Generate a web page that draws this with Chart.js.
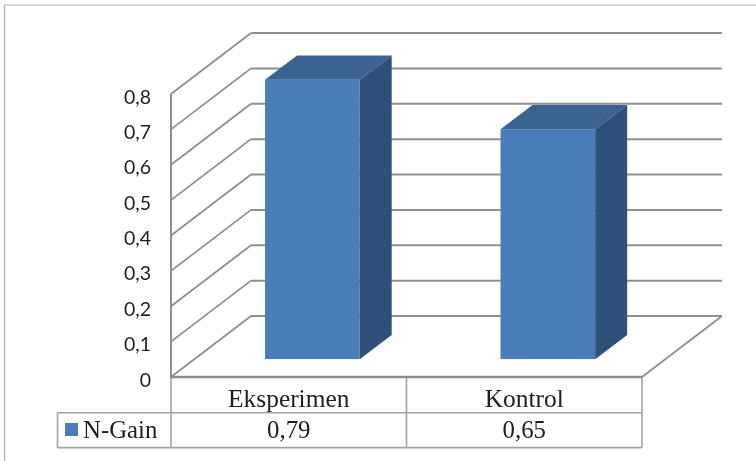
<!DOCTYPE html>
<html>
<head>
<meta charset="utf-8">
<title>N-Gain</title>
<script src="https://cdn.jsdelivr.net/npm/chart.js@4/dist/chart.umd.min.js"></script>
<style>
  html, body { margin: 0; padding: 0; background: #fff; }
  canvas { display: block; }
</style>
</head>
<body>
<canvas id="chart" width="756" height="461"></canvas>
<script>
const categories = ['Eksperimen', 'Kontrol'];
const nGain = [0.79, 0.65];
const tickLabels = ['0', '0,1', '0,2', '0,3', '0,4', '0,5', '0,6', '0,7', '0,8'];
const seriesName = 'N-Gain';

// Depth of the box: bars stand inside it, so the scales follow the bar plane
const frontDx = -23.6, frontDy = 17.7;   // bar plane -> front edge of the box
const backDx = 56.4, backDy = -43.3;     // bar plane -> back wall
const barDepthDx = 32, barDepthDy = -24.3;

const gridColor = '#8f8f8f';
const tableColor = '#a3a3a3';
const barFront = '#4a7ebb';
const barTop = '#3a6390';
const barSide = '#2f5079';
const serifFont = '24.8px "Liberation Serif", "Times New Roman", serif';
const textColor = '#1e1e1e';

function line(ctx, x1, y1, x2, y2, color, width) {
    ctx.beginPath();
    ctx.moveTo(x1, y1);
    ctx.lineTo(x2, y2);
    ctx.strokeStyle = color;
    ctx.lineWidth = width;
    ctx.stroke();
}

function poly(ctx, pts, color) {
    ctx.beginPath();
    pts.forEach((p, i) => i ? ctx.lineTo(p[0], p[1]) : ctx.moveTo(p[0], p[1]));
    ctx.closePath();
    ctx.fillStyle = color;
    ctx.fill();
}

// Page frame, side wall, back wall and floor, all behind the bars
const boxPlugin = {
    id: 'box',
    beforeDatasetsDraw(chart) {
        const { ctx, scales: { x, y } } = chart;
        ctx.save();
        ctx.lineJoin = 'miter';
        line(ctx, 4.5, 5, 756, 5, '#c8c8c8', 1.5);
        line(ctx, 4.5, 5, 4.5, 461, '#b8b8b8', 1.5);

        const frontX = x.left + frontDx;
        const frontRight = x.right + frontDx;
        const backX = x.left + backDx;
        const backRight = x.right + backDx;

        y.ticks.forEach(t => {
            const py = y.getPixelForValue(t.value);
            line(ctx, frontX, py + frontDy, backX, py + backDy, gridColor, 1.8);
            line(ctx, backX, py + backDy, backRight, py + backDy, gridColor, 2);
        });
        const floorY = y.getPixelForValue(0);
        line(ctx, frontRight, floorY + frontDy, backRight, floorY + backDy, gridColor, 1.8);
        line(ctx, frontX, y.getPixelForValue(0.8) + frontDy, frontX, floorY + frontDy, gridColor, 2);
        ctx.restore();
    },
    // Top and side faces come from the bar elements themselves
    afterDatasetsDraw(chart) {
        const { ctx } = chart;
        ctx.save();
        chart.getDatasetMeta(0).data.forEach(bar => {
            const l = bar.x - bar.width / 2;
            const r = bar.x + bar.width / 2;
            poly(ctx, [[l, bar.y], [r, bar.y], [r + barDepthDx, bar.y + barDepthDy], [l + barDepthDx, bar.y + barDepthDy]], barTop);
            poly(ctx, [[r, bar.y], [r + barDepthDx, bar.y + barDepthDy], [r + barDepthDx, bar.base + barDepthDy], [r, bar.base]], barSide);
        });
        ctx.restore();
    },
    // Data table under the box
    afterDraw(chart) {
        const { ctx, scales: { x, y } } = chart;
        const axisY = y.getPixelForValue(0) + frontDy;
        const rowY = 412.7, tableBottom = 447.7, legendLeft = 57.5;
        const left = x.left + frontDx;
        const right = x.right + frontDx;
        const slots = categories.map((c, i) => x.getPixelForValue(i) + frontDx);
        const mid = (slots[0] + slots[1]) / 2;

        ctx.save();
        line(ctx, legendLeft, rowY, right, rowY, tableColor, 1.6);
        line(ctx, legendLeft, tableBottom, right, tableBottom, tableColor, 1.8);
        line(ctx, legendLeft, rowY, legendLeft, tableBottom, tableColor, 1.6);
        [left, mid, right].forEach(px => line(ctx, px, axisY, px, tableBottom, tableColor, 1.6));
        line(ctx, left - 1, axisY, right, axisY, '#8c8c8c', 2.6);

        ctx.fillStyle = barFront;
        ctx.fillRect(65, 423, 13, 13);

        ctx.font = serifFont;
        ctx.fillStyle = textColor;
        ctx.textBaseline = 'alphabetic';
        ctx.textAlign = 'left';
        ctx.fillText(seriesName, 83, 438);
        ctx.textAlign = 'center';
        nGain.forEach((v, i) => {
            ctx.fillText(v.toFixed(2).replace('.', ','), slots[i], 438);
        });
        ctx.restore();
    }
};

new Chart(document.getElementById('chart'), {
    type: 'bar',
    data: {
        labels: categories,
        datasets: [{
            label: seriesName,
            data: nGain,
            backgroundColor: barFront,
            borderWidth: 0,
            barPercentage: 0.402,
            categoryPercentage: 1
        }]
    },
    options: {
        responsive: false,
        animation: false,
        layout: { padding: { left: 104.6, right: 90.4, top: 76.3, bottom: 21.7 } },
        plugins: { legend: { display: false }, tooltip: { enabled: false } },
        scales: {
            x: {
                afterFit: s => { s.height = 80; },
                border: { display: false },
                grid: { display: false, drawTicks: false },
                ticks: {
                    maxRotation: 0,
                    autoSkip: false,
                    padding: 26,
                    labelOffset: frontDx,
                    color: textColor,
                    font: { family: '"Liberation Serif", "Times New Roman", serif', size: 25.4 }
                }
            },
            y: {
                min: 0,
                max: 0.8,
                afterFit: s => { s.width = 90; },
                border: { display: false },
                grid: { display: false, drawTicks: false },
                ticks: {
                    stepSize: 0.1,
                    padding: 43.6,
                    labelOffset: 21,
                    color: textColor,
                    font: { family: 'Lato, "Open Sans", sans-serif', size: 19.5 },
                    callback: (v, i) => tickLabels[i]
                }
            }
        }
    },
    plugins: [boxPlugin]
});
</script>
</body>
</html>
